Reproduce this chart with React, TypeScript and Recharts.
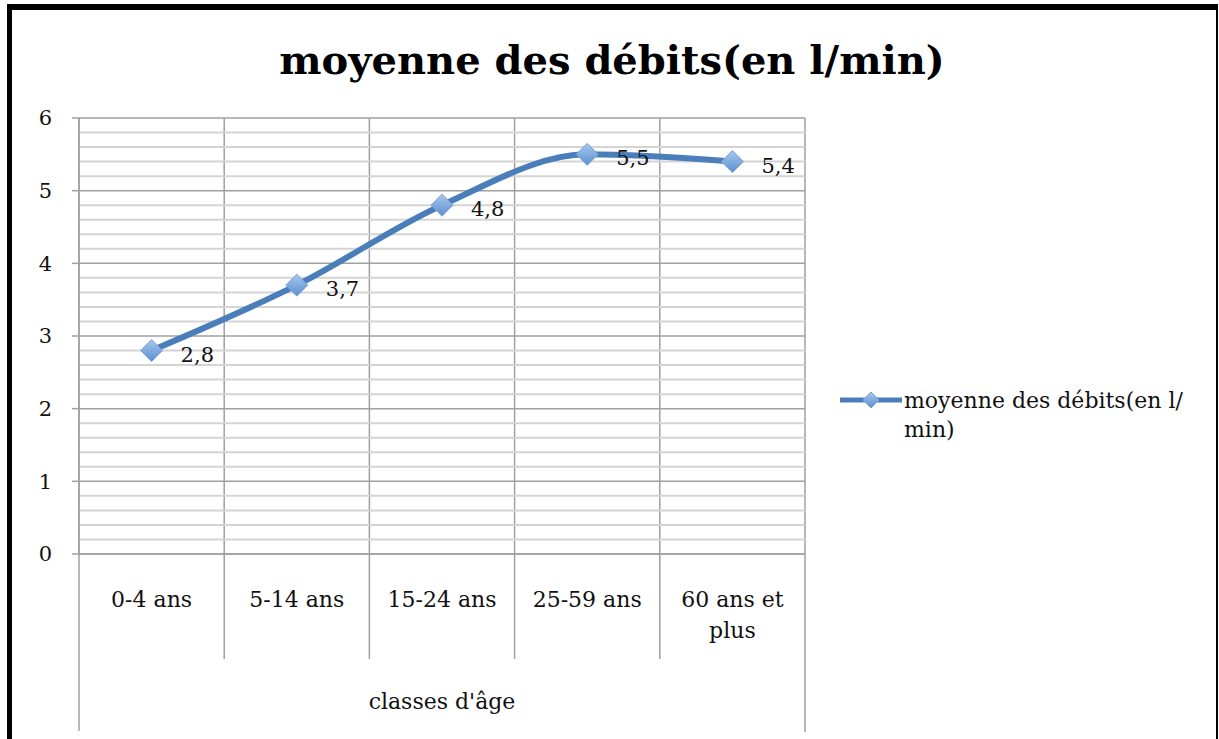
import { CartesianGrid, LabelList, Legend, Line, LineChart, ReferenceLine, XAxis, YAxis } from "recharts";

const categories = ["0-4 ans", "5-14 ans", "15-24 ans", "25-59 ans", "60 ans et plus"];
const debits = [2.8, 3.7, 4.8, 5.5, 5.4];
const yTicks = [0, 1, 2, 3, 4, 5, 6];
const minorTicks = [
  0.2, 0.4, 0.6, 0.8, 1.2, 1.4, 1.6, 1.8, 2.2, 2.4, 2.6, 2.8, 3.2, 3.4, 3.6, 3.8,
  4.2, 4.4, 4.6, 4.8, 5.2, 5.4, 5.6, 5.8,
];

const seriesName = "moyenne des débits(en l/min)";
const title = "moyenne des débits(en l/min)";
const xTitle = "classes d'âge";

const data = categories.map((name, i) => ({ name, debit: debits[i] }));

const font = "'DejaVu Serif', serif";
const blue = "#4a7ebb";
const gridMajor = "#a0a0a0";
const gridMinor = "#d4d4d4";

// wraps a label like excel does ("60 ans et" / "plus")
const wrap = (s: string) => (s.length > 10 ? [s.split(" ").slice(0, 3).join(" "), s.split(" ").slice(3).join(" ")] : [s]);

const CategoryTick = (props: any) => {
  const { x, y, payload, index, width, visibleTicksCount } = props;
  const band = width / visibleTicksCount;
  const left = x - band / 2;
  const right = x + band / 2;
  const last = index === visibleTicksCount - 1;
  const lines = wrap(payload.value);
  return (
    <g>
      <line x1={left} x2={left} y1={y - 8} y2={index === 0 ? y + 169 : y + 97} stroke={gridMajor} strokeWidth={1.5} />
      {last && <line x1={right} x2={right} y1={y - 8} y2={y + 170} stroke={gridMajor} strokeWidth={1.5} />}
      {lines.map((l, i) => (
        <text key={i} x={x} y={y + 45 + i * 31} textAnchor="middle" fontFamily={font} fontSize={22} fill="#111">
          {l}
        </text>
      ))}
    </g>
  );
};

const Diamond = (props: any) => {
  const { cx, cy } = props;
  if (cx == null || cy == null) return null;
  const r = 11;
  return (
    <path
      d={`M${cx},${cy - r} L${cx + r},${cy} L${cx},${cy + r} L${cx - r},${cy} Z`}
      fill="url(#diamondGrad)"
      stroke="#7aa3d6"
      strokeWidth={1}
    />
  );
};

const ValueLabel = (props: any) => {
  const { x, y, value } = props;
  return (
    <text x={x + 29} y={y + 11} fontFamily={font} fontSize={21} fill="#111">
      {String(value).replace(".", ",")}
    </text>
  );
};

const LegendContent = () => (
  <div style={{ display: "flex", alignItems: "flex-start", fontFamily: font, fontSize: 22, color: "#111", lineHeight: "29px" }}>
    <svg width={66} height={29} style={{ flex: "none" }}>
      <defs>
        <linearGradient id="legendGrad" x1="0" y1="0" x2="0" y2="1">
          <stop offset="0%" stopColor="#a9c8ee" />
          <stop offset="100%" stopColor="#5b8fd0" />
        </linearGradient>
      </defs>
      <line x1={2} x2={64} y1={14} y2={14} stroke={blue} strokeWidth={5} />
      <path d="M33,6 L41,14 L33,22 L25,14 Z" fill="url(#legendGrad)" stroke="#7aa3d6" />
    </svg>
    <div style={{ width: 310, textAlign: "left" }}>
      moyenne des débits(en l/
      <br />
      min)
    </div>
  </div>
);

export default function App() {
  return (
    <div style={{ position: "absolute", left: 0, top: 0, width: 1219, height: 739, background: "#fff", overflow: "hidden" }}>
      <div
        style={{
          position: "absolute",
          left: 7,
          top: 4,
          width: 1204,
          height: 760,
          borderTop: "6px solid #000",
          borderLeft: "5px solid #000",
          borderRight: "2px solid #000",
        }}
      />
      <div
        style={{
          position: "absolute",
          left: 0,
          top: 36,
          width: 1224,
          textAlign: "center",
          fontFamily: font,
          fontWeight: "bold",
          fontSize: 40,
          color: "#000",
        }}
      >
        {title}
      </div>
      <div style={{ position: "absolute", left: 0, top: 0 }}>
        <LineChart width={1219} height={739} data={data} margin={{ top: 118, right: 414, left: 19, bottom: 5 }}>
          <defs>
            <linearGradient id="diamondGrad" x1="0" y1="0" x2="0" y2="1">
              <stop offset="0%" stopColor="#a9c8ee" />
              <stop offset="100%" stopColor="#5b8fd0" />
            </linearGradient>
          </defs>
          {minorTicks.map((v) => (
            <ReferenceLine key={v} y={v} stroke={gridMinor} strokeWidth={2} ifOverflow="hidden" />
          ))}
          <CartesianGrid
            stroke={gridMajor}
            strokeWidth={1.5}
            vertical
            horizontal
            verticalCoordinatesGenerator={({ offset }: any) =>
              categories.map((_, i) => offset.left + (i * offset.width) / categories.length).concat(offset.left + offset.width)
            }
          />
          <XAxis
            dataKey="name"
            scale="band"
            height={180}
            axisLine={{ stroke: gridMajor, strokeWidth: 1.5 }}
            tickLine={false}
            interval={0}
            tick={<CategoryTick />}
            label={{ value: xTitle, position: "insideBottom", offset: 25, fontFamily: font, fontSize: 22, fill: "#111" }}
          />
          <YAxis
            width={60}
            domain={[0, 6]}
            ticks={yTicks}
            interval={0}
            axisLine={{ stroke: gridMajor, strokeWidth: 1.5 }}
            tickLine={{ stroke: gridMajor, strokeWidth: 1.5 }}
            tickSize={7}
            tickMargin={20}
            tick={{ fontFamily: font, fontSize: 21, fill: "#111" }}
          />
          <Legend
            layout="horizontal"
            verticalAlign="middle"
            align="center"
            wrapperStyle={{ position: "absolute", left: 838, top: 386, width: 380, right: "auto", bottom: "auto" }}
            content={<LegendContent />}
          />
          <Line
            type="monotone"
            dataKey="debit"
            name={seriesName}
            stroke={blue}
            strokeWidth={6}
            dot={<Diamond />}
            activeDot={false}
            isAnimationActive={false}
          >
            <LabelList dataKey="debit" content={<ValueLabel />} />
          </Line>
        </LineChart>
      </div>
    </div>
  );
}
